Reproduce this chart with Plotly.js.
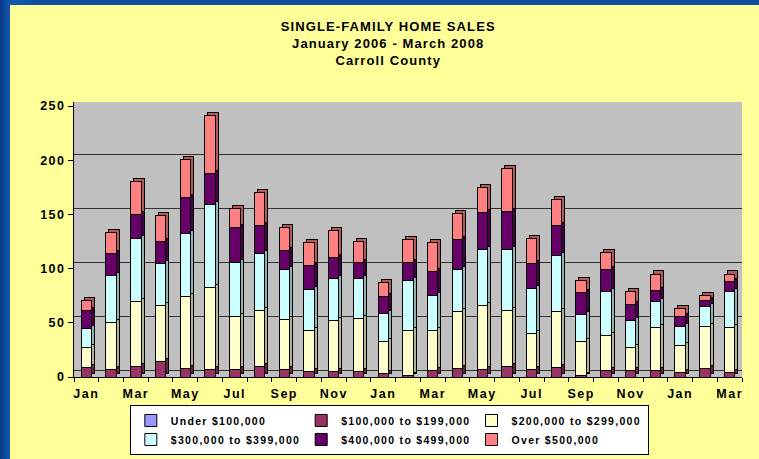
<!DOCTYPE html>
<html><head><meta charset="utf-8">
<script src="https://cdn.plot.ly/plotly-3.0.1.min.js"></script>
<style>
html,body{margin:0;padding:0;width:759px;height:459px;overflow:hidden;background:#0d4c9e;}
body{background:linear-gradient(to right,#093a86 0px,#1358b0 10px,#0d4c9e 40px);}
#chart{position:absolute;left:10px;top:5px;width:749px;height:454px;}
text.gtitle{letter-spacing:1.1px}
g.x2tick text, g.y2tick text{letter-spacing:1.5px}
text.legendtext{letter-spacing:1.3px}
</style></head>
<body><div id="chart"></div>
<script>
const months = ['Jan 2006','Feb 2006','Mar 2006','Apr 2006','May 2006','Jun 2006','Jul 2006','Aug 2006','Sep 2006','Oct 2006','Nov 2006','Dec 2006',
  'Jan 2007','Feb 2007','Mar 2007','Apr 2007','May 2007','Jun 2007','Jul 2007','Aug 2007','Sep 2007','Oct 2007','Nov 2007','Dec 2007',
  'Jan 2008','Feb 2008','Mar 2008'];
const tickLabels = ['Jan','','Mar','','May','','Jul','','Sep','','Nov','',
  'Jan','','Mar','','May','','Jul','','Sep','','Nov','',
  'Jan','','Mar'];
const seriesNames = ['Under $100,000','$100,000 to $199,000','$200,000 to $299,000','$300,000 to $399,000','$400,000 to $499,000','Over $500,000'];
const under100k = [0,0,0,0,0,0,0,0,0,0,0,0,0,0,0,0,0,0,0,0,0,0,0,0,0,0,0];
const k100to199 = [9,7,10,14,8,7,7,10,7,5,5,5,3,1,6,8,7,10,7,9,1,6,6,6,4,8,4];
const k200to299 = [18,43,60,52,66,76,49,51,46,38,47,49,30,42,37,52,59,51,33,51,32,32,21,40,25,39,42];
const k300to399 = [18,44,58,39,58,76,50,53,46,38,39,37,26,46,32,39,52,57,42,52,25,41,25,24,18,18,33];
const k400to499 = [16,20,22,20,34,29,32,26,18,22,19,15,15,17,22,28,34,35,23,28,20,20,15,10,9,6,9];
const over500k  = [10,19,30,24,35,53,17,30,21,21,25,19,13,21,27,24,23,39,23,24,11,16,12,15,7,4,7];
const yTicks = [0,50,100,150,200,250];

const seriesValues = [under100k,k100to199,k200to299,k300to399,k400to499,over500k];
const frontColors = ['#9999FF','#993366','#FFFFCC','#CCFFFF','#660066','#FF8080'];
const sideColors  = ['#6B6BB3','#6B2447','#B3B38F','#8FB3B3','#470047','#B35A5A'];
const barWidth = 0.42;
// back-wall gridlines sit a little higher than the front face (3D depth)
const wallShift = 2.8;
const gridVals = yTicks.map(v => v + wallShift);

const traces = [];
// side/top faces (3D depth) on the back axes
seriesValues.forEach((vals,i)=>{
  traces.push({type:'bar', x:months, y:vals, xaxis:'x', yaxis:'y', width:barWidth,
    marker:{color:sideColors[i], line:{color:'#000', width:1}}, showlegend:false, hoverinfo:'skip', name:seriesNames[i]+' depth'});
});
// front faces
seriesValues.forEach((vals,i)=>{
  traces.push({type:'bar', x:months, y:vals, xaxis:'x2', yaxis:'y2', width:barWidth, name:seriesNames[i],
    marker:{color:frontColors[i], line:{color:'#000', width:1}}});
});

const layout = {
  width:749, height:454,
  paper_bgcolor:'#FFFF99', plot_bgcolor:'#C0C0C0',
  margin:{l:64,r:17,t:97,b:82,autoexpand:false},
  font:{family:'"Liberation Sans", Arial, sans-serif', color:'#000', size:12},
  title:{text:'SINGLE-FAMILY HOME SALES<br>January 2006 - March 2008<br>Carroll County',
    font:{size:13, weight:'bold', color:'#000'}, x:0.505, xref:'container', xanchor:'center',
    y:0.942, yref:'container', yanchor:'top'},
  barmode:'stack',
  showlegend:true,
  legend:{orientation:'h', xref:'container', yref:'container', x:0.16, y:0.119, xanchor:'left', yanchor:'top', bgcolor:'#FFFFFF',
    bordercolor:'#000', borderwidth:1, font:{size:10.5, weight:'bold', color:'#000'},
    entrywidth:0.255, entrywidthmode:'fraction', traceorder:'normal'},
  xaxis:{type:'category', range:[-0.621,26.379], showticklabels:false, ticks:'', showgrid:false, zeroline:false, showline:false},
  yaxis:{range:[-2.8,250.9], showticklabels:false, ticks:'', showgrid:true, gridcolor:'#303030', gridwidth:1,
    tickmode:'array', tickvals:gridVals, zeroline:false, showline:false},
  xaxis2:{type:'category', overlaying:'x', anchor:'y2', side:'bottom', range:[-0.5,26.5],
    tickmode:'array', tickvals:months, ticktext:tickLabels, tickson:'boundaries', ticks:'outside', ticklen:4,
    tickcolor:'#000', showline:true, linecolor:'#000', linewidth:1, showgrid:false, zeroline:false,
    ticklabelstandoff:5, tickangle:0, tickfont:{size:12.5, weight:'bold', color:'#000'}},
  yaxis2:{overlaying:'y', anchor:'x2', side:'left', range:[0,253.7], tickmode:'array', tickvals:yTicks,
    ticks:'outside', ticklen:5, tickcolor:'#000', showline:true, linecolor:'#000', linewidth:1,
    showgrid:false, zeroline:false, tickfont:{size:12.5, weight:'bold', color:'#000'}}
};
Plotly.newPlot('chart', traces, layout, {staticPlot:true, displayModeBar:false});
</script></body></html>
